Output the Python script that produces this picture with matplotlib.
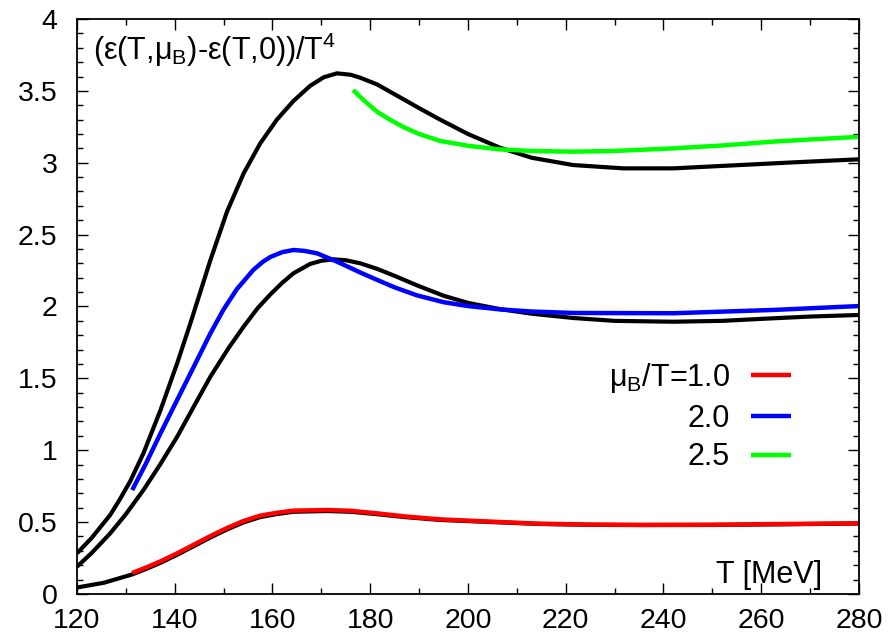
import matplotlib
matplotlib.use("Agg")
import matplotlib.pyplot as plt
from matplotlib.ticker import MultipleLocator

plt.rcParams["font.family"] = ["Liberation Sans", "DejaVu Sans"]
plt.rcParams["mathtext.fontset"] = "custom"
plt.rcParams["mathtext.rm"] = "Liberation Sans"
plt.rcParams["mathtext.default"] = "regular"

# black curves, full T range
t_k25 = [120, 123, 126.8, 128.8, 130.9, 133.6, 137.1, 140.5, 143.2, 147.3, 150.7,
         154.1, 157.5, 160.9, 164.3, 167.7, 170.5, 173.2, 176, 178, 181.4, 186.1,
         190, 194.3, 200, 206.5, 213, 221.5, 231.8, 242, 255.6, 268, 280]
y_k25 = [0.283, 0.39, 0.55, 0.66, 0.785, 0.979, 1.28, 1.605, 1.883, 2.323, 2.66,
         2.926, 3.135, 3.30, 3.43, 3.535, 3.595, 3.622, 3.612, 3.591, 3.545, 3.455,
         3.38, 3.30, 3.20, 3.105, 3.035, 2.984, 2.961, 2.961, 2.984, 3.005, 3.024]

t_k20 = [120, 123, 126.8, 130, 133.6, 137, 140.5, 144, 147.3, 151, 154.1, 157,
         159.6, 162, 164.3, 167.7, 170, 172.5, 175, 178, 181.4, 185, 189.5, 195,
         200, 206.5, 213, 221.5, 230, 242, 252, 262.5, 270, 280]
y_k20 = [0.19, 0.285, 0.422, 0.555, 0.723, 0.90, 1.094, 1.31, 1.512, 1.71, 1.86,
         1.99, 2.085, 2.165, 2.231, 2.296, 2.318, 2.328, 2.322, 2.300, 2.262, 2.213,
         2.148, 2.075, 2.025, 1.982, 1.950, 1.920, 1.90, 1.894, 1.90, 1.918, 1.93,
         1.941]

t_k10 = [120, 125.5, 131.3, 134.2, 137.1, 140.5, 143.9, 147.3, 150.7, 154, 157.5,
         160.9, 164.3, 171.2, 176, 181.4, 187, 194.3, 205, 214.7, 225, 235.2, 250,
         265, 280]
y_k10 = [0.045, 0.078, 0.136, 0.175, 0.217, 0.273, 0.333, 0.393, 0.449, 0.497,
         0.535, 0.556, 0.572, 0.577, 0.572, 0.555, 0.535, 0.515, 0.50, 0.487,
         0.481, 0.479, 0.48, 0.485, 0.49]

# coloured curves
t_r = [131.3, 134.2, 137.1, 140.5, 143.9, 147.3, 150.7, 154, 157.5, 160.9, 164.3,
       171.2, 176, 181.4, 187, 194.3, 205, 214.7, 225, 235.2, 250, 265, 280]
y_r = [0.146, 0.185, 0.227, 0.283, 0.343, 0.403, 0.459, 0.507, 0.545, 0.565, 0.58,
       0.584, 0.579, 0.561, 0.54, 0.519, 0.503, 0.489, 0.483, 0.481, 0.482, 0.487,
       0.492]

t_b = [131.3, 134, 137.1, 140.5, 143.9, 147.3, 150, 152.7, 156.1, 158, 159.6, 162,
       164.3, 166.5, 169.1, 173.2, 178, 181.4, 185, 189.5, 195, 200, 206.5, 213,
       221.5, 242, 262.5, 280]
y_b = [0.723, 0.90, 1.118, 1.35, 1.581, 1.813, 1.98, 2.12, 2.255, 2.31, 2.345,
       2.378, 2.393, 2.387, 2.37, 2.312, 2.236, 2.185, 2.133, 2.078, 2.030, 2.003,
       1.98, 1.965, 1.955, 1.953, 1.976, 2.003]

t_g = [176.5, 178.5, 181.4, 184, 187, 190, 194.3, 200, 206.5, 213, 221.5, 230, 242,
       252, 262.5, 270, 280]
y_g = [3.506, 3.44, 3.355, 3.30, 3.245, 3.20, 3.152, 3.118, 3.093, 3.082, 3.077,
       3.082, 3.10, 3.12, 3.147, 3.162, 3.18]

labels = [r"$\mu_B$/T=1.0", "2.0", "2.5"]
colors = ["#ff0000", "#0000ff", "#00ff00"]

fig = plt.figure(figsize=(8.93, 6.42), dpi=100)
ax = fig.add_axes([0.0862, 0.0748, 0.8757, 0.8956])

for t, y in [(t_k25, y_k25), (t_k20, y_k20), (t_k10, y_k10)]:
    ax.plot(t, y, color="black", lw=3.0, solid_capstyle="butt", solid_joinstyle="round")
for t, y, c, lab in [(t_r, y_r, colors[0], labels[0]),
                     (t_b, y_b, colors[1], labels[1]),
                     (t_g, y_g, colors[2], labels[2])]:
    ax.plot(t, y, color=c, lw=3.2, label=lab, solid_capstyle="butt",
            solid_joinstyle="round")

ax.set_xlim(120, 280)
ax.set_ylim(0, 4)
ax.xaxis.set_major_locator(MultipleLocator(20))
ax.xaxis.set_minor_locator(MultipleLocator(10))
ax.yaxis.set_major_locator(MultipleLocator(0.5))
ax.yaxis.set_minor_locator(MultipleLocator(0.1))
ax.yaxis.set_major_formatter(plt.FuncFormatter(lambda v, p: f"{v:g}"))

ax.tick_params(which="both", direction="in", top=True, right=True,
               labelsize=20.5, width=1.0)
ax.tick_params(axis="x", which="major", length=8, pad=10)
ax.tick_params(axis="y", which="major", length=8, pad=14)
ax.tick_params(which="minor", length=4.5)
for s in ax.spines.values():
    s.set_linewidth(1.3)

ax.text(0.02, 0.929, r"(ε(T,$\mu_B$)-ε(T,0))/T$^4$", transform=ax.transAxes,
        fontsize=22, ha="left", va="baseline")
ax.text(0.953, 0.019, "T [MeV]", transform=ax.transAxes,
        fontsize=22, ha="right", va="baseline")

ax.legend(loc="upper right", bbox_to_anchor=(0.913, 0.405), frameon=False,
          markerfirst=False, fontsize=22, handlelength=1.3,
          handletextpad=0.7, labelspacing=0.28, borderpad=0, borderaxespad=0)

fig.savefig("out.png", dpi=100)
